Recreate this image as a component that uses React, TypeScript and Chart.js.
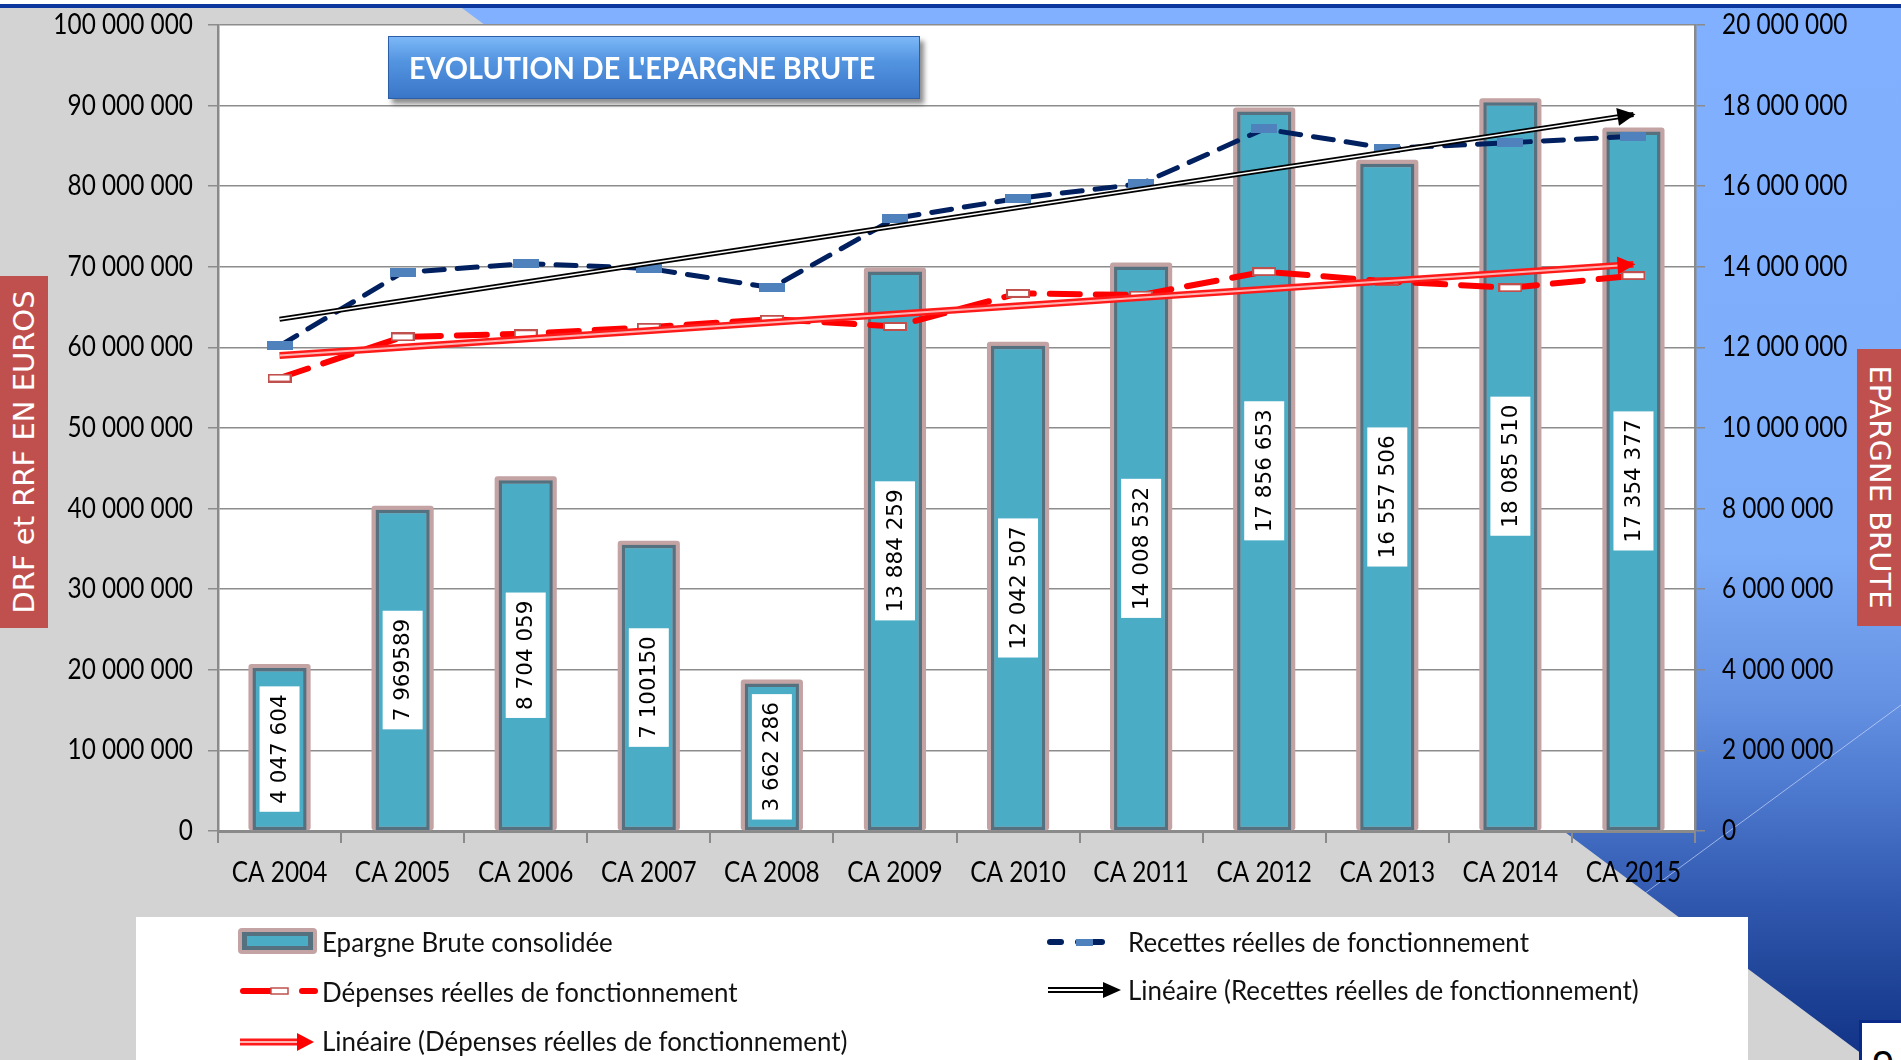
import React, { useEffect, useRef } from "react";
import { Chart, registerables } from "chart.js";

Chart.register(...registerables);

// ---------- data ----------
const categories = [
  "CA 2004", "CA 2005", "CA 2006", "CA 2007", "CA 2008", "CA 2009",
  "CA 2010", "CA 2011", "CA 2012", "CA 2013", "CA 2014", "CA 2015",
];
const epargneBrute = [
  4047604, 7969589, 8704059, 7100150, 3662286, 13884259,
  12042507, 14008532, 17856653, 16557506, 18085510, 17354377,
];
const epargneLabels = [
  "4 047 604", "7 969589", "8 704 059", "7 100150", "3 662 286", "13 884 259",
  "12 042 507", "14 008 532", "17 856 653", "16 557 506", "18 085 510", "17 354 377",
];
const recettes = [
  60.2e6, 69.3e6, 70.4e6, 69.8e6, 67.4e6, 76.0e6,
  78.5e6, 80.3e6, 87.1e6, 84.7e6, 85.4e6, 86.2e6,
];
const depenses = [
  56.2e6, 61.3e6, 61.7e6, 62.5e6, 63.5e6, 62.6e6,
  66.7e6, 66.5e6, 69.4e6, 68.2e6, 67.4e6, 68.9e6,
];
const trendRecettes = [63.5e6, null, null, null, null, null, null, null, null, null, null, 88.9e6];
const trendDepenses = [59.0e6, null, null, null, null, null, null, null, null, null, null, 70.3e6];

const leftMax = 100000000;
const leftStep = 10000000;
const rightMax = 20000000;
const rightStep = 2000000;

const legendLabels = {
  epargne: "Epargne Brute consolidée",
  depenses: "Dépenses réelles de fonctionnement",
  linDepenses: "Linéaire (Dépenses réelles de fonctionnement)",
  recettes: "Recettes réelles de fonctionnement",
  linRecettes: "Linéaire (Recettes réelles de fonctionnement)",
};
const titleText = "EVOLUTION DE L'EPARGNE BRUTE";
const leftAxisTitle = "DRF et RRF EN EUROS";
const rightAxisTitle = "EPARGNE BRUTE";

// ---------- styles ----------
const CAL = 'Lato, "Open Sans", "Liberation Sans", sans-serif';
const DEJAVU = '"DejaVu Sans", Verdana, sans-serif';
const SX = 0.87;
const SX_LEGEND = 0.96;
const SX_TITLE = 0.927;

const fmt = (v: number | string) =>
  String(Math.round(Number(v))).replace(/\B(?=(\d{3})+(?!\d))/g, " ");

function rectMarker(w: number, h: number, fill: string, stroke?: string, lw = 0) {
  const c = document.createElement("canvas");
  c.width = w;
  c.height = h;
  const x = c.getContext("2d")!;
  x.fillStyle = fill;
  x.fillRect(0, 0, w, h);
  if (stroke) {
    x.strokeStyle = stroke;
    x.lineWidth = lw;
    x.strokeRect(lw / 2, lw / 2, w - lw, h - lw);
  }
  return c;
}

const BAR_INDEX = 6;

const plotBgPlugin = {
  id: "plotBg",
  beforeDraw(chart: any) {
    const { ctx, chartArea } = chart;
    ctx.save();
    ctx.fillStyle = "#ffffff";
    ctx.fillRect(chartArea.left, chartArea.top, chartArea.right - chartArea.left, chartArea.bottom - chartArea.top);
    ctx.restore();
  },
};

const tickLabelPlugin = {
  id: "tickLabels",
  afterDraw(chart: any) {
    const { ctx, chartArea, scales } = chart;
    ctx.save();
    ctx.fillStyle = "#000000";
    ctx.font = `28px ${CAL}`;
    ctx.textBaseline = "middle";
    const draw = (txt: string, x: number, y: number, align: CanvasTextAlign) => {
      ctx.save();
      ctx.translate(x, y);
      ctx.scale(SX, 1);
      ctx.textAlign = align;
      ctx.fillText(txt, 0, 0);
      ctx.restore();
    };
    scales.y.ticks.forEach((t: any) =>
      draw(fmt(t.value), chartArea.left - 25, scales.y.getPixelForValue(t.value), "right")
    );
    scales.y1.ticks.forEach((t: any) =>
      draw(fmt(t.value), chartArea.right + 27, scales.y1.getPixelForValue(t.value), "left")
    );
    scales.x.ticks.forEach((t: any, i: number) =>
      draw(String(scales.x.getLabelForValue(t.value)), scales.x.getPixelForTick(i), chartArea.bottom + 42, "center")
    );
    ctx.restore();
  },
};

const barDecorPlugin = {
  id: "barDecor",
  beforeDatasetDraw(chart: any, args: any) {
    if (args.index !== BAR_INDEX) return;
    const { ctx } = chart;
    ctx.save();
    ctx.fillStyle = "#c3a3a3";
    args.meta.data.forEach((el: any) => {
      const { x, y, base, width } = el.getProps(["x", "y", "base", "width"], true);
      ctx.beginPath();
      ctx.roundRect(x - width / 2 - 4, y - 4, width + 8, base - y + 4, 3);
      ctx.fill();
    });
    ctx.restore();
  },
  afterDatasetDraw(chart: any, args: any) {
    if (args.index !== BAR_INDEX) return;
    const { ctx } = chart;
    ctx.save();
    ctx.font = `21.5px ${DEJAVU}`;
    ctx.textAlign = "center";
    ctx.textBaseline = "middle";
    args.meta.data.forEach((el: any, i: number) => {
      const { x, y, base } = el.getProps(["x", "y", "base"], true);
      const cy = (y + base) / 2;
      const txt = epargneLabels[i];
      const tw = ctx.measureText(txt).width;
      ctx.save();
      ctx.translate(x, cy);
      ctx.rotate(-Math.PI / 2);
      ctx.fillStyle = "#ffffff";
      ctx.fillRect(-tw / 2 - 8, -20, tw + 16, 40);
      ctx.fillStyle = "#000000";
      ctx.fillText(txt, 0, 1);
      ctx.restore();
    });
    ctx.restore();
  },
};

const arrowPlugin = {
  id: "arrows",
  afterDatasetsDraw(chart: any) {
    const specs = [
      { index: 0, color: "#ff0000" },
      { index: 2, color: "#000000" },
    ];
    const { ctx } = chart;
    specs.forEach((s) => {
      const meta = chart.getDatasetMeta(s.index);
      const pts = meta.data.filter((p: any) => !p.skip);
      if (pts.length < 2) return;
      const p0 = pts[0];
      const p1 = pts[pts.length - 1];
      const a = Math.atan2(p1.y - p0.y, p1.x - p0.x);
      const len = 18;
      const hw = 9;
      const tx = p1.x + Math.cos(a) * 2;
      const ty = p1.y + Math.sin(a) * 2;
      const bx = tx - Math.cos(a) * len;
      const by = ty - Math.sin(a) * len;
      ctx.save();
      ctx.fillStyle = s.color;
      ctx.beginPath();
      ctx.moveTo(tx, ty);
      ctx.lineTo(bx - Math.sin(a) * hw, by + Math.cos(a) * hw);
      ctx.lineTo(bx + Math.sin(a) * hw, by - Math.cos(a) * hw);
      ctx.closePath();
      ctx.fill();
      ctx.restore();
    });
  },
};

export default function App() {
  const ref = useRef<HTMLCanvasElement>(null);

  useEffect(() => {
    const canvas = ref.current!;
    const rrfMarker = rectMarker(26, 9, "#4f81bd");
    const drfMarker = rectMarker(24, 9, "#ffffff", "#c0504d", 2);

    const axisGray = "#8a8a8a";

    const chart = new Chart(canvas, {
      type: "bar",
      data: {
        labels: categories,
        datasets: [
          {
            type: "line",
            label: "trendDepOuter",
            data: trendDepenses,
            yAxisID: "y",
            borderColor: "#ff1a1a",
            borderWidth: 7,
            pointRadius: 0,
            spanGaps: true,
            order: 4,
          } as any,
          {
            type: "line",
            label: "trendDepInner",
            data: trendDepenses,
            yAxisID: "y",
            borderColor: "#ffb4b4",
            borderWidth: 2,
            pointRadius: 0,
            spanGaps: true,
            order: 3,
          },
          {
            type: "line",
            label: "trendRecOuter",
            data: trendRecettes,
            yAxisID: "y",
            borderColor: "#000000",
            borderWidth: 5,
            pointRadius: 0,
            spanGaps: true,
            order: 2,
          },
          {
            type: "line",
            label: "trendRecInner",
            data: trendRecettes,
            yAxisID: "y",
            borderColor: "#ffffff",
            borderWidth: 1.6,
            pointRadius: 0,
            spanGaps: true,
            order: 1,
          },
          {
            type: "line",
            label: legendLabels.recettes,
            data: recettes,
            yAxisID: "y",
            borderColor: "#002060",
            borderWidth: 5,
            borderDash: [20, 13],
            borderCapStyle: "round",
            pointStyle: rrfMarker,
            pointRadius: 6,
            tension: 0,
            order: 5,
          },
          {
            type: "line",
            label: legendLabels.depenses,
            data: depenses,
            yAxisID: "y",
            borderColor: "#ff0000",
            borderWidth: 6,
            borderDash: [30, 16],
            borderCapStyle: "round",
            pointStyle: drfMarker,
            pointRadius: 6,
            tension: 0,
            order: 6,
          },
          {
            type: "bar",
            label: legendLabels.epargne,
            data: epargneBrute,
            yAxisID: "y1",
            backgroundColor: "#4bacc6",
            borderColor: "#55717f",
            borderWidth: 3.5,
            borderSkipped: false,
            barPercentage: 0.44,
            categoryPercentage: 1.0,
            order: 10,
          },
        ],
      },
      options: {
        responsive: false,
        devicePixelRatio: 1,
        animation: false,
        events: [],
        layout: { padding: { top: 25, left: 0, right: 0, bottom: 0 } },
        plugins: {
          legend: { display: false },
          tooltip: { enabled: false },
          title: { display: false },
        },
        scales: {
          x: {
            offset: true,
            grid: {
              display: true,
              drawOnChartArea: false,
              drawTicks: true,
              tickLength: 12,
              color: axisGray,
              lineWidth: 2,
              offset: true,
            },
            border: { display: true, color: axisGray, width: 3 },
            ticks: { display: false, autoSkip: false, maxRotation: 0 },
            afterFit: (s: any) => {
              s.height = 229;
            },
          },
          y: {
            position: "left",
            min: 0,
            max: leftMax,
            ticks: { display: false, stepSize: leftStep },
            grid: { color: "#8c8c8c", lineWidth: 1.5, tickLength: 10 },
            border: { display: true, color: axisGray, width: 2.5 },
            afterFit: (s: any) => {
              s.width = 218;
            },
          },
          y1: {
            position: "right",
            min: 0,
            max: rightMax,
            ticks: { display: false, stepSize: rightStep },
            grid: { drawOnChartArea: false, color: axisGray, lineWidth: 1.5, tickLength: 10 },
            border: { display: true, color: axisGray, width: 2.5 },
            afterFit: (s: any) => {
              s.width = 206;
            },
          },
        },
      } as any,
      plugins: [plotBgPlugin, barDecorPlugin, arrowPlugin, tickLabelPlugin],
    });
    return () => chart.destroy();
  }, []);

  const legendText: React.CSSProperties = {
    position: "absolute",
    height: 34,
    lineHeight: "34px",
    fontFamily: CAL,
    fontSize: 27,
    color: "#111111",
    whiteSpace: "nowrap",
    transform: `scaleX(${SX_LEGEND})`,
    transformOrigin: "left center",
  };

  return (
    <div
      style={{
        position: "fixed",
        left: 0,
        top: 0,
        width: 1901,
        height: 1060,
        overflow: "hidden",
        background:
          "linear-gradient(180deg, #80b0ff 0%, #7dacf8 52%, #6592e3 66%, #4a76cc 75.5%, #3058ae 85%, #1c4194 94%, #123286 100%)",
      }}
    >
      <div style={{ position: "absolute", left: 0, top: 0, width: 1901, height: 4, background: "#ffffff" }} />
      <div style={{ position: "absolute", left: 0, top: 4, width: 1901, height: 4, background: "#0c389e" }} />
      <svg width={1901} height={1060} style={{ position: "absolute", left: 0, top: 0 }}>
        <line x1={1901} y1={705} x2={1418} y2={1060} stroke="rgba(220,230,255,0.6)" strokeWidth={1} />
        <polygon points="0,8 462,8 1870,1060 0,1060" fill="#d3d3d3" />
      </svg>

      {/* legend box */}
      <div
        style={{
          position: "absolute",
          left: 136,
          top: 917,
          width: 1612,
          height: 143,
          background: "#ffffff",
        }}
      />

      <canvas
        ref={ref}
        width={1901}
        height={1060}
        style={{ position: "absolute", left: 0, top: 0, width: 1901, height: 1060 }}
      />

      {/* title */}
      <div
        style={{
          position: "absolute",
          left: 388,
          top: 36,
          width: 532,
          height: 63,
          boxSizing: "border-box",
          background: "linear-gradient(180deg, #7cb8f7 0%, #5394e0 40%, #3a76c8 100%)",
          border: "1px solid #2c5fa8",
          boxShadow: "4px 5px 5px rgba(0,0,0,0.45)",
        }}
      >
        <div
          style={{
            position: "absolute",
            left: 20,
            top: 0,
            height: 61,
            lineHeight: "61px",
            color: "#ffffff",
            fontFamily: CAL,
            fontWeight: "bold",
            fontSize: 31,
            whiteSpace: "nowrap",
            transform: `scaleX(${SX_TITLE})`,
            transformOrigin: "left center",
          }}
        >
          {titleText}
        </div>
      </div>

      {/* left axis title */}
      <div
        style={{
          position: "absolute",
          left: 0,
          top: 276,
          width: 48,
          height: 352,
          background: "#c0504d",
        }}
      >
        <div
          style={{
            position: "absolute",
            left: 24,
            top: 176,
            transform: "translate(-50%, -50%) rotate(-90deg)",
            color: "#ffffff",
            fontFamily: DEJAVU,
            fontSize: 29,
            whiteSpace: "nowrap",
            lineHeight: "34px",
          }}
        >
          {leftAxisTitle}
        </div>
      </div>

      {/* right axis title */}
      <div
        style={{
          position: "absolute",
          left: 1857,
          top: 349,
          width: 44,
          height: 277,
          background: "#c0504d",
        }}
      >
        <div
          style={{
            position: "absolute",
            left: 23,
            top: 138,
            transform: "translate(-50%, -50%) rotate(90deg)",
            color: "#ffffff",
            fontFamily: DEJAVU,
            fontSize: 29,
            whiteSpace: "nowrap",
            lineHeight: "34px",
          }}
        >
          {rightAxisTitle}
        </div>
      </div>

      {/* page number box */}
      <div
        style={{
          position: "absolute",
          left: 1859,
          top: 1020,
          width: 60,
          height: 60,
          background: "#ffffff",
          borderLeft: "3px solid #0a2a8a",
          borderTop: "3px solid #0a2a8a",
          fontFamily: '"Liberation Sans", sans-serif',
          fontSize: 40,
          lineHeight: "44px",
          paddingLeft: 10,
          paddingTop: 20,
          boxSizing: "border-box",
          color: "#000",
        }}
      >
        9
      </div>

      {/* legend markers */}
      <svg width={1901} height={1060} style={{ position: "absolute", left: 0, top: 0 }}>
        <rect x={238} y={928} width={79} height={26} rx={4} fill="#c3a3a3" />
        <rect x={242} y={932} width={71} height={18} fill="#55717f" />
        <rect x={247} y={936} width={61} height={10} fill="#4bacc6" />
        <line x1={243} y1={991} x2={272} y2={991} stroke="#ff0000" strokeWidth={6} strokeLinecap="round" />
        <rect x={271} y={988} width={17} height={6} fill="#ffffff" stroke="#c0504d" strokeWidth={1.5} />
        <line x1={302} y1={991} x2={315} y2={991} stroke="#ff0000" strokeWidth={6} strokeLinecap="round" />
        <line x1={240} y1={1042} x2={300} y2={1042} stroke="#ff1a1a" strokeWidth={7} />
        <line x1={240} y1={1042} x2={300} y2={1042} stroke="#ffb4b4" strokeWidth={2} />
        <polygon points="297,1033 314,1042 297,1051" fill="#ff0000" />
        <line x1={1050} y1={942} x2={1061} y2={942} stroke="#002060" strokeWidth={6} strokeLinecap="round" />
        <line x1={1078} y1={942} x2={1102} y2={942} stroke="#002060" strokeWidth={6} strokeLinecap="round" />
        <rect x={1076} y={939} width={17} height={7} fill="#4f81bd" />
        <line x1={1048} y1={990} x2={1106} y2={990} stroke="#000000" strokeWidth={6} />
        <line x1={1048} y1={990} x2={1106} y2={990} stroke="#ffffff" strokeWidth={2} />
        <polygon points="1103,982 1121,990 1103,998" fill="#000000" />
      </svg>

      {/* legend texts */}
      <div style={{ ...legendText, left: 322, top: 925 }}>{legendLabels.epargne}</div>
      <div style={{ ...legendText, left: 322, top: 975 }}>{legendLabels.depenses}</div>
      <div style={{ ...legendText, left: 322, top: 1024 }}>{legendLabels.linDepenses}</div>
      <div style={{ ...legendText, left: 1128, top: 925 }}>{legendLabels.recettes}</div>
      <div style={{ ...legendText, left: 1128, top: 973 }}>{legendLabels.linRecettes}</div>
    </div>
  );
}
